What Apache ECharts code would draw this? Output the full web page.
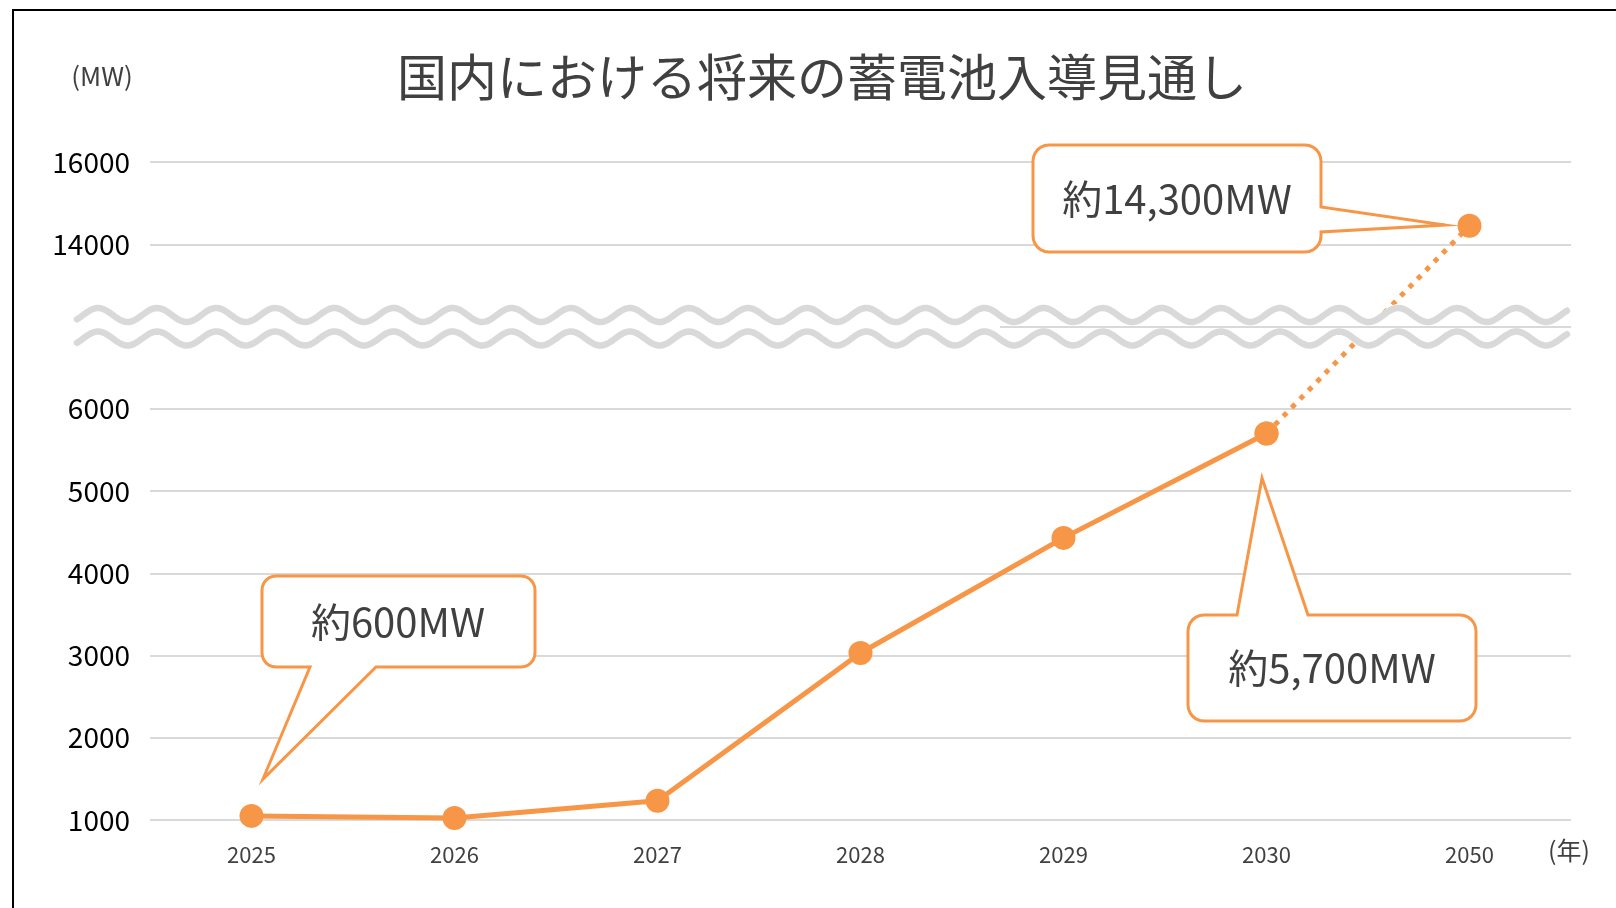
<!DOCTYPE html>
<html>
<head>
<meta charset="utf-8">
<title>国内における将来の蓄電池入導見通し</title>
<script src="https://cdn.jsdelivr.net/npm/echarts@6/dist/echarts.min.js"></script>
<style>
  html, body { margin: 0; padding: 0; background: #fff; }
  #main { width: 1616px; height: 908px; }
</style>
</head>
<body>
<div id="main"></div>
<script>
// データ
const years = ['2025', '2026', '2027', '2028', '2029', '2030', '2050'];
const values = [1050, 1025, 1235, 3030, 4430, 5700, 14450];
// 縦軸の目盛り（省略区間の前後で刻みが変わる）
const yTickValues = [1000, 2000, 3000, 4000, 5000, 6000, null, 14000, 16000];
const yTickLabels = ['1000', '2000', '3000', '4000', '5000', '6000', '', '14000', '16000'];
const calloutTexts = ['約600MW', '約5,700MW', '約14,300MW'];

const ORANGE = '#F79646';
const FONT = '"Noto Sans CJK JP", "Noto Sans", sans-serif';

// 実際の値 -> 目盛り位置（6000〜14000 は波線で省略）
function toSlot(v) {
  const pts = [];
  yTickValues.forEach((t, i) => { if (t !== null) pts.push([t, i]); });
  for (let i = 0; i < pts.length - 1; i++) {
    const [v0, s0] = pts[i];
    const [v1, s1] = pts[i + 1];
    if (v <= v1 || i === pts.length - 2) {
      return s0 + (v - v0) / (v1 - v0) * (s1 - s0);
    }
  }
}

const solidData = values.map((v, i) => (i <= 5 ? toSlot(v) : null));
const dottedData = values.map((v, i) => (i >= 5 ? toSlot(v) : null));

// 角の丸め（円弧を点で近似）
function corner(cx, cy, r, a0, pts) {
  for (let k = 0; k <= 6; k++) {
    const a = (a0 + k * 15) * Math.PI / 180;
    pts.push([cx + r * Math.cos(a), cy + r * Math.sin(a)]);
  }
}

// 吹き出し（角丸四角＋しっぽ）の頂点
function bubble(x, y, w, h, r, side, a, b, tx, ty) {
  const R = x + w, B = y + h;
  const pts = [];
  corner(x + r, y + r, r, 180, pts);             // 左上
  if (side === 'top') pts.push([a, y], [tx, ty], [b, y]);
  corner(R - r, y + r, r, 270, pts);             // 右上
  if (side === 'right') pts.push([R, a], [tx, ty], [R, b]);
  corner(R - r, B - r, r, 0, pts);               // 右下
  if (side === 'bottom') pts.push([b, B], [tx, ty], [a, B]);
  corner(x + r, B - r, r, 90, pts);              // 左下
  return pts;
}

// 省略を表す波線
function wave(cy, x0, x1) {
  const pts = [];
  for (let x = x0; x <= x1; x += 2) {
    pts.push([x, cy - 7 * Math.cos(2 * Math.PI * (x - 98) / 59.1)]);
  }
  return pts;
}
const waveTop = wave(315, 77, 1567);
const waveBottom = wave(338.5, 77, 1567);
const band = waveTop.map(p => [p[0], p[1] - 4]).concat(
  waveBottom.map(p => [p[0], p[1] + 4]).reverse());

const myChart = echarts.init(document.getElementById('main'));

const callouts = [
  { pts: bubble(262, 576, 273, 91, 14, 'bottom', 310, 376, 263, 779), text: calloutTexts[0], x: 398, y: 622 },
  { pts: bubble(1188, 615, 288, 106, 16, 'top', 1237, 1308, 1262, 478), text: calloutTexts[1], x: 1332, y: 668 },
  { pts: bubble(1033, 145, 288, 107, 16, 'right', 207, 232, 1445, 225), text: calloutTexts[2], x: 1177, y: 199 }
];

const graphics = [
  // 外枠
  { type: 'rect', z: 200, silent: true, shape: { x: 13, y: 10, width: 1700, height: 1000 },
    style: { fill: 'none', stroke: '#000', lineWidth: 2 } },
  // タイトル
  { type: 'text', z: 200, style: { text: '国内における将来の蓄電池入導見通し', x: 822, y: 77,
    textAlign: 'center', textVerticalAlign: 'middle', font: `50px ${FONT}`, fill: '#404040' } },
  { type: 'text', z: 200, style: { text: '(MW)', x: 102, y: 76,
    textAlign: 'center', textVerticalAlign: 'middle', font: `26px ${FONT}`, fill: '#404040' } },
  { type: 'text', z: 200, style: { text: '(年)', x: 1569, y: 850,
    textAlign: 'center', textVerticalAlign: 'middle', font: `25px ${FONT}`, fill: '#404040' } },
  // 波線
  { type: 'polygon', z: 100, shape: { points: band }, style: { fill: '#fff' } },
  { type: 'line', z: 101, shape: { x1: 1000, y1: 327, x2: 1571, y2: 327 },
    style: { stroke: '#d9d9d9', lineWidth: 2 } },
  { type: 'polyline', z: 102, shape: { points: waveTop },
    style: { stroke: '#d9d9d9', lineWidth: 6.5, fill: 'none', lineCap: 'round' } },
  { type: 'polyline', z: 102, shape: { points: waveBottom },
    style: { stroke: '#d9d9d9', lineWidth: 6.5, fill: 'none', lineCap: 'round' } }
];
callouts.forEach(c => {
  graphics.push({ type: 'polygon', z: 150, shape: { points: c.pts },
    style: { fill: '#fff', stroke: ORANGE, lineWidth: 3, lineJoin: 'miter' } });
  graphics.push({ type: 'text', z: 151, style: { text: c.text, x: c.x, y: c.y,
    textAlign: 'center', textVerticalAlign: 'middle', font: `40px ${FONT}`, fill: '#404040' } });
});

const options = {
  animation: false,
  grid: { left: 150, right: 45, top: 162, bottom: 88 },
  xAxis: {
    type: 'category',
    data: years,
    boundaryGap: true,
    axisLine: { show: false },
    axisTick: { show: false },
    axisLabel: { color: '#404040', fontSize: 22, fontFamily: FONT, margin: 24 }
  },
  yAxis: {
    type: 'value',
    min: 0,
    max: yTickLabels.length - 1,
    interval: 1,
    axisLine: { show: false },
    axisTick: { show: false },
    splitLine: { lineStyle: { color: '#d9d9d9', width: 2 } },
    axisLabel: {
      color: '#000', fontSize: 28, fontFamily: FONT, margin: 20,
      padding: [4, 0, 0, 0],
      formatter: (val) => yTickLabels[Math.round(val)] || ''
    }
  },
  series: [
    {
      type: 'line',
      data: solidData,
      symbol: 'circle',
      symbolSize: 24,
      z: 5,
      itemStyle: { color: ORANGE },
      lineStyle: { color: ORANGE, width: 5 }
    },
    {
      type: 'line',
      data: dottedData,
      symbol: 'circle',
      symbolSize: 24,
      z: 4,
      itemStyle: { color: ORANGE },
      lineStyle: { color: ORANGE, width: 5, type: [5, 7], cap: 'butt' }
    }
  ],
  graphic: graphics
};

myChart.setOption(options);
</script>
</body>
</html>
